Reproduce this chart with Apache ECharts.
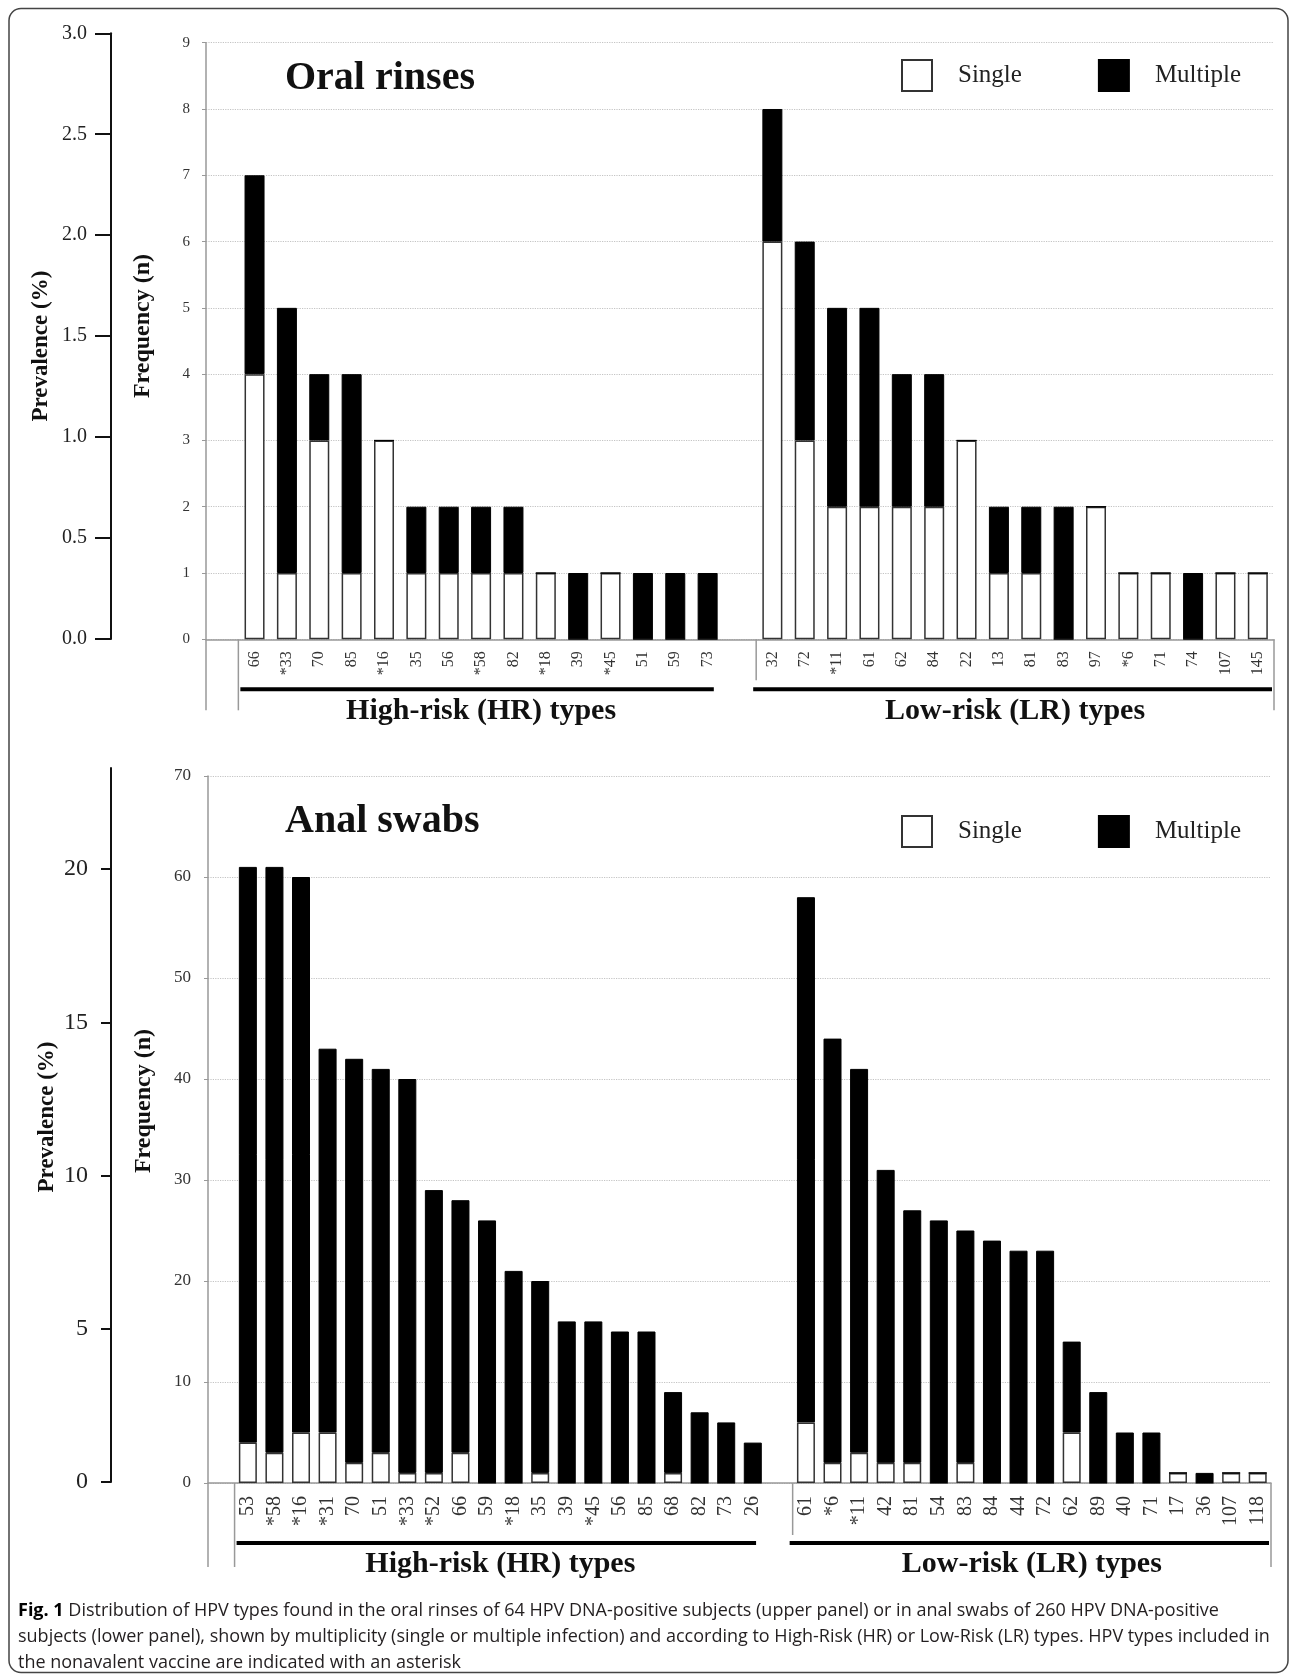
<!DOCTYPE html>
<html>
<head>
<meta charset="utf-8">
<title>HPV types by multiplicity</title>
<script src="https://cdn.jsdelivr.net/npm/echarts@6/dist/echarts.min.js"></script>
<style>
  html, body { margin: 0; padding: 0; background: #fff; }
  #chart { width: 1295px; height: 1677px; }
</style>
</head>
<body>
<div id="chart"></div>
<script>
// upper panel: oral rinses
var oralHR = ['66', '*33', '70', '85', '*16', '35', '56', '*58', '82', '*18', '39', '*45', '51', '59', '73'];
var oralHRSingle = [4, 1, 3, 1, 3, 1, 1, 1, 1, 1, 0, 1, 0, 0, 0];
var oralHRMultiple = [3, 4, 1, 3, 0, 1, 1, 1, 1, 0, 1, 0, 1, 1, 1];
var oralLR = ['32', '72', '*11', '61', '62', '84', '22', '13', '81', '83', '97', '*6', '71', '74', '107', '145'];
var oralLRSingle = [6, 3, 2, 2, 2, 2, 3, 1, 1, 0, 2, 1, 1, 0, 1, 1];
var oralLRMultiple = [2, 3, 3, 3, 2, 2, 0, 1, 1, 2, 0, 0, 0, 1, 0, 0];
var oralPrevTicks = [0, 0.5, 1.0, 1.5, 2.0, 2.5, 3.0];

// lower panel: anal swabs
var analHR = ['53', '*58', '*16', '*31', '70', '51', '*33', '*52', '66', '59', '*18', '35', '39', '*45', '56', '85', '68', '82', '73', '26'];
var analHRSingle = [4, 3, 5, 5, 2, 3, 1, 1, 3, 0, 0, 1, 0, 0, 0, 0, 1, 0, 0, 0];
var analHRMultiple = [57, 58, 55, 38, 40, 38, 39, 28, 25, 26, 21, 19, 16, 16, 15, 15, 8, 7, 6, 4];
var analLR = ['61', '*6', '*11', '42', '81', '54', '83', '84', '44', '72', '62', '89', '40', '71', '17', '36', '107', '118'];
var analLRSingle = [6, 2, 3, 2, 2, 0, 2, 0, 0, 0, 5, 0, 0, 0, 1, 0, 1, 1];
var analLRMultiple = [52, 42, 38, 29, 25, 26, 23, 24, 23, 23, 9, 9, 5, 5, 0, 1, 0, 0];
var analPrevTicks = [0, 5, 10, 15, 20];

var groupNames = ['High-risk (HR) types', 'Low-risk (LR) types'];
var captionLines = [
  'Distribution of HPV types found in the oral rinses of 64 HPV DNA-positive subjects (upper panel) or in anal swabs of 260 HPV DNA-positive',
  'subjects (lower panel), shown by multiplicity (single or multiple infection) and according to High-Risk (HR) or Low-Risk (LR) types. HPV types included in',
  'the nonavalent vaccine are indicated with an asterisk'
];

var SERIF = '"Liberation Serif", "Times New Roman", serif';

// one blank slot in front of each panel and one between HR and LR
function cats(hr, lr) { return [' '].concat(hr, ['  '], lr); }
function vals(hr, lr) { return [null].concat(hr, [null], lr); }

var chart = echarts.init(document.getElementById('chart'), null, { renderer: 'canvas' });

var singleStyle = { color: '#fff', borderColor: '#333', borderWidth: 1.5 };
var multiStyle = { color: '#000', borderColor: '#000', borderWidth: 1 };

function catAxis(grid, data, size, margin) {
  return {
    gridIndex: grid, type: 'category', data: data,
    axisLine: { lineStyle: { color: '#999', width: 1.5 } },
    axisTick: { show: false },
    axisLabel: { interval: 0, rotate: 90, fontFamily: SERIF, fontSize: size, color: '#333', margin: margin }
  };
}

function legendAt(top) {
  return {
    left: 901, top: top, padding: 0, icon: 'rect', itemWidth: 30, itemHeight: 31, itemGap: 76,
    selectedMode: false, data: ['Single', 'Multiple'],
    itemStyle: { borderWidth: 2 },
    textStyle: { fontFamily: SERIF, fontSize: 25, color: '#222', padding: [0, 0, 0, 21] }
  };
}

chart.setOption({
  animation: false,
  backgroundColor: '#fff',
  title: [
    { text: 'Oral rinses', left: 280, top: 54, textStyle: { fontFamily: SERIF, fontSize: 40, fontWeight: 'bold', color: '#111' } },
    { text: 'Anal swabs', left: 280, top: 797, textStyle: { fontFamily: SERIF, fontSize: 40, fontWeight: 'bold', color: '#111' } }
  ],
  legend: [legendAt(59), legendAt(815)],
  grid: [
    { left: 111, top: 33.3, width: 1, height: 605.7 },
    { left: 206, right: 21, top: 42.7, height: 596.6 },
    { left: 111, top: 768, width: 1, height: 714 },
    { left: 208, right: 24, top: 776, height: 707 }
  ],
  xAxis: [
    { gridIndex: 0, type: 'value', show: false },
    catAxis(1, cats(oralHR, oralLR), 16, 12),
    { gridIndex: 2, type: 'value', show: false },
    catAxis(3, cats(analHR, analLR), 20, 13)
  ],
  yAxis: [
    {
      gridIndex: 0, type: 'value', min: 0, max: 3, interval: 0.5,
      axisLine: { show: true, lineStyle: { color: '#111', width: 2 } },
      axisTick: { show: true, length: 16, lineStyle: { color: '#111', width: 2 } },
      axisLabel: { margin: 24, fontFamily: SERIF, fontSize: 20, color: '#222', formatter: function (v) { return v.toFixed(1); } },
      splitLine: { show: false },
      name: 'Prevalence (%)', nameLocation: 'middle', nameGap: 58,
      nameTextStyle: { fontFamily: SERIF, fontSize: 23, fontWeight: 'bold', color: '#111', padding: [0, 20, 0, 0] }
    },
    {
      gridIndex: 1, type: 'value', min: 0, max: 9, interval: 1,
      axisLine: { show: true, lineStyle: { color: '#999', width: 1.5 } },
      axisTick: { show: true, length: 4, lineStyle: { color: '#999' } },
      axisLabel: { margin: 16, fontFamily: SERIF, fontSize: 15, color: '#333' },
      splitLine: { lineStyle: { color: '#c4c4c4', type: 'dotted', width: 1.2 } },
      name: 'Frequency (n)', nameLocation: 'middle', nameGap: 51,
      nameTextStyle: { fontFamily: SERIF, fontSize: 24, fontWeight: 'bold', color: '#111', padding: [0, 0, 0, 30] }
    },
    {
      gridIndex: 2, type: 'value', min: 0, max: 23.3,
      axisLine: { show: true, lineStyle: { color: '#111', width: 2 } },
      axisTick: { show: true, length: 10, customValues: analPrevTicks, lineStyle: { color: '#111', width: 2 } },
      axisLabel: { margin: 23, customValues: analPrevTicks, fontFamily: SERIF, fontSize: 24, color: '#222' },
      splitLine: { show: false },
      name: 'Prevalence (%)', nameLocation: 'middle', nameGap: 52,
      nameTextStyle: { fontFamily: SERIF, fontSize: 23, fontWeight: 'bold', color: '#111', padding: [0, 0, 0, 16] }
    },
    {
      gridIndex: 3, type: 'value', min: 0, max: 70, interval: 10,
      axisLine: { show: true, lineStyle: { color: '#999', width: 1.5 } },
      axisTick: { show: true, length: 4, lineStyle: { color: '#999' } },
      axisLabel: { margin: 17, fontFamily: SERIF, fontSize: 17, color: '#333' },
      splitLine: { lineStyle: { color: '#c4c4c4', type: 'dotted', width: 1.2 } },
      name: 'Frequency (n)', nameLocation: 'middle', nameGap: 52,
      nameTextStyle: { fontFamily: SERIF, fontSize: 24, fontWeight: 'bold', color: '#111', padding: [0, 0, 0, 57] }
    }
  ],
  series: [
    { name: 'Single', type: 'bar', xAxisIndex: 1, yAxisIndex: 1, stack: 'oral', barWidth: 20,
      data: vals(oralHRSingle, oralLRSingle), itemStyle: singleStyle },
    { name: 'Multiple', type: 'bar', xAxisIndex: 1, yAxisIndex: 1, stack: 'oral', barWidth: 20,
      data: vals(oralHRMultiple, oralLRMultiple), itemStyle: multiStyle },
    { name: 'Single', type: 'bar', xAxisIndex: 3, yAxisIndex: 3, stack: 'anal', barWidth: 18,
      data: vals(analHRSingle, analLRSingle), itemStyle: singleStyle },
    { name: 'Multiple', type: 'bar', xAxisIndex: 3, yAxisIndex: 3, stack: 'anal', barWidth: 18,
      data: vals(analHRMultiple, analLRMultiple), itemStyle: multiStyle }
  ]
});

// group brackets and labels under the category axis, placed from the axis itself
function groupMarks(xi, yi, nHR, nLR, o) {
  var cx = function (i) { return chart.convertToPixel({ xAxisIndex: xi }, i); };
  var bw = cx(1) - cx(0);
  var y0 = chart.convertToPixel({ yAxisIndex: yi }, 0);
  var axisX = cx(0) - bw / 2;
  var hrStart = cx(1) - bw / 2, hrEnd = cx(nHR) + bw / 2;
  var lrStart = cx(nHR + 2) - bw / 2, lrEnd = cx(nHR + 1 + nLR) + bw / 2;
  var gray = { stroke: '#999', lineWidth: 1.5 };
  var vline = function (x, len) {
    return { type: 'line', shape: { x1: x, y1: y0, x2: x, y2: y0 + len }, style: gray, silent: true };
  };
  var hline = function (a, b) {
    return { type: 'line', shape: { x1: a, y1: y0 + o.bar, x2: b, y2: y0 + o.bar }, style: { stroke: '#000', lineWidth: 4 }, silent: true };
  };
  var label = function (x, t) {
    return { type: 'text', x: x, y: y0 + o.label, silent: true,
      style: { text: t, fontFamily: SERIF, fontSize: 30, fontWeight: 'bold', fill: '#111', align: 'center', verticalAlign: 'middle' } };
  };
  return [
    vline(axisX, o.ext), vline(hrStart, o.ext), vline(lrStart, o.mid), vline(lrEnd, o.ext),
    hline(hrStart + 2, hrEnd - 10), hline(lrStart - 3, lrEnd - 2),
    label((hrStart + hrEnd) / 2, groupNames[0]), label((lrStart + lrEnd) / 2, groupNames[1])
  ];
}

var capFont = '"Open Sans", "Noto Sans", sans-serif';
var caption = captionLines.map(function (line, i) {
  return {
    type: 'text', x: 18, y: 1611 + i * 26, silent: true,
    style: {
      text: (i === 0 ? '{b|Fig. 1} ' : '') + line,
      fontFamily: capFont, fontSize: 18, fill: '#231f20', verticalAlign: 'middle',
      rich: { b: { fontFamily: capFont, fontSize: 18, fontWeight: 'bold', fill: '#000' } }
    }
  };
});

var frame = {
  type: 'rect', silent: true, z: -1,
  shape: { x: 9, y: 8.5, width: 1279, height: 1664, r: 12 },
  style: { fill: 'none', stroke: '#444', lineWidth: 1.5 }
};

chart.setOption({
  graphic: [frame].concat(
    groupMarks(1, 1, oralHR.length, oralLR.length, { ext: 71, mid: 41, bar: 50, label: 72 }),
    groupMarks(3, 3, analHR.length, analLR.length, { ext: 84, mid: 52, bar: 60, label: 81 }),
    caption
  )
});
</script>
</body>
</html>
